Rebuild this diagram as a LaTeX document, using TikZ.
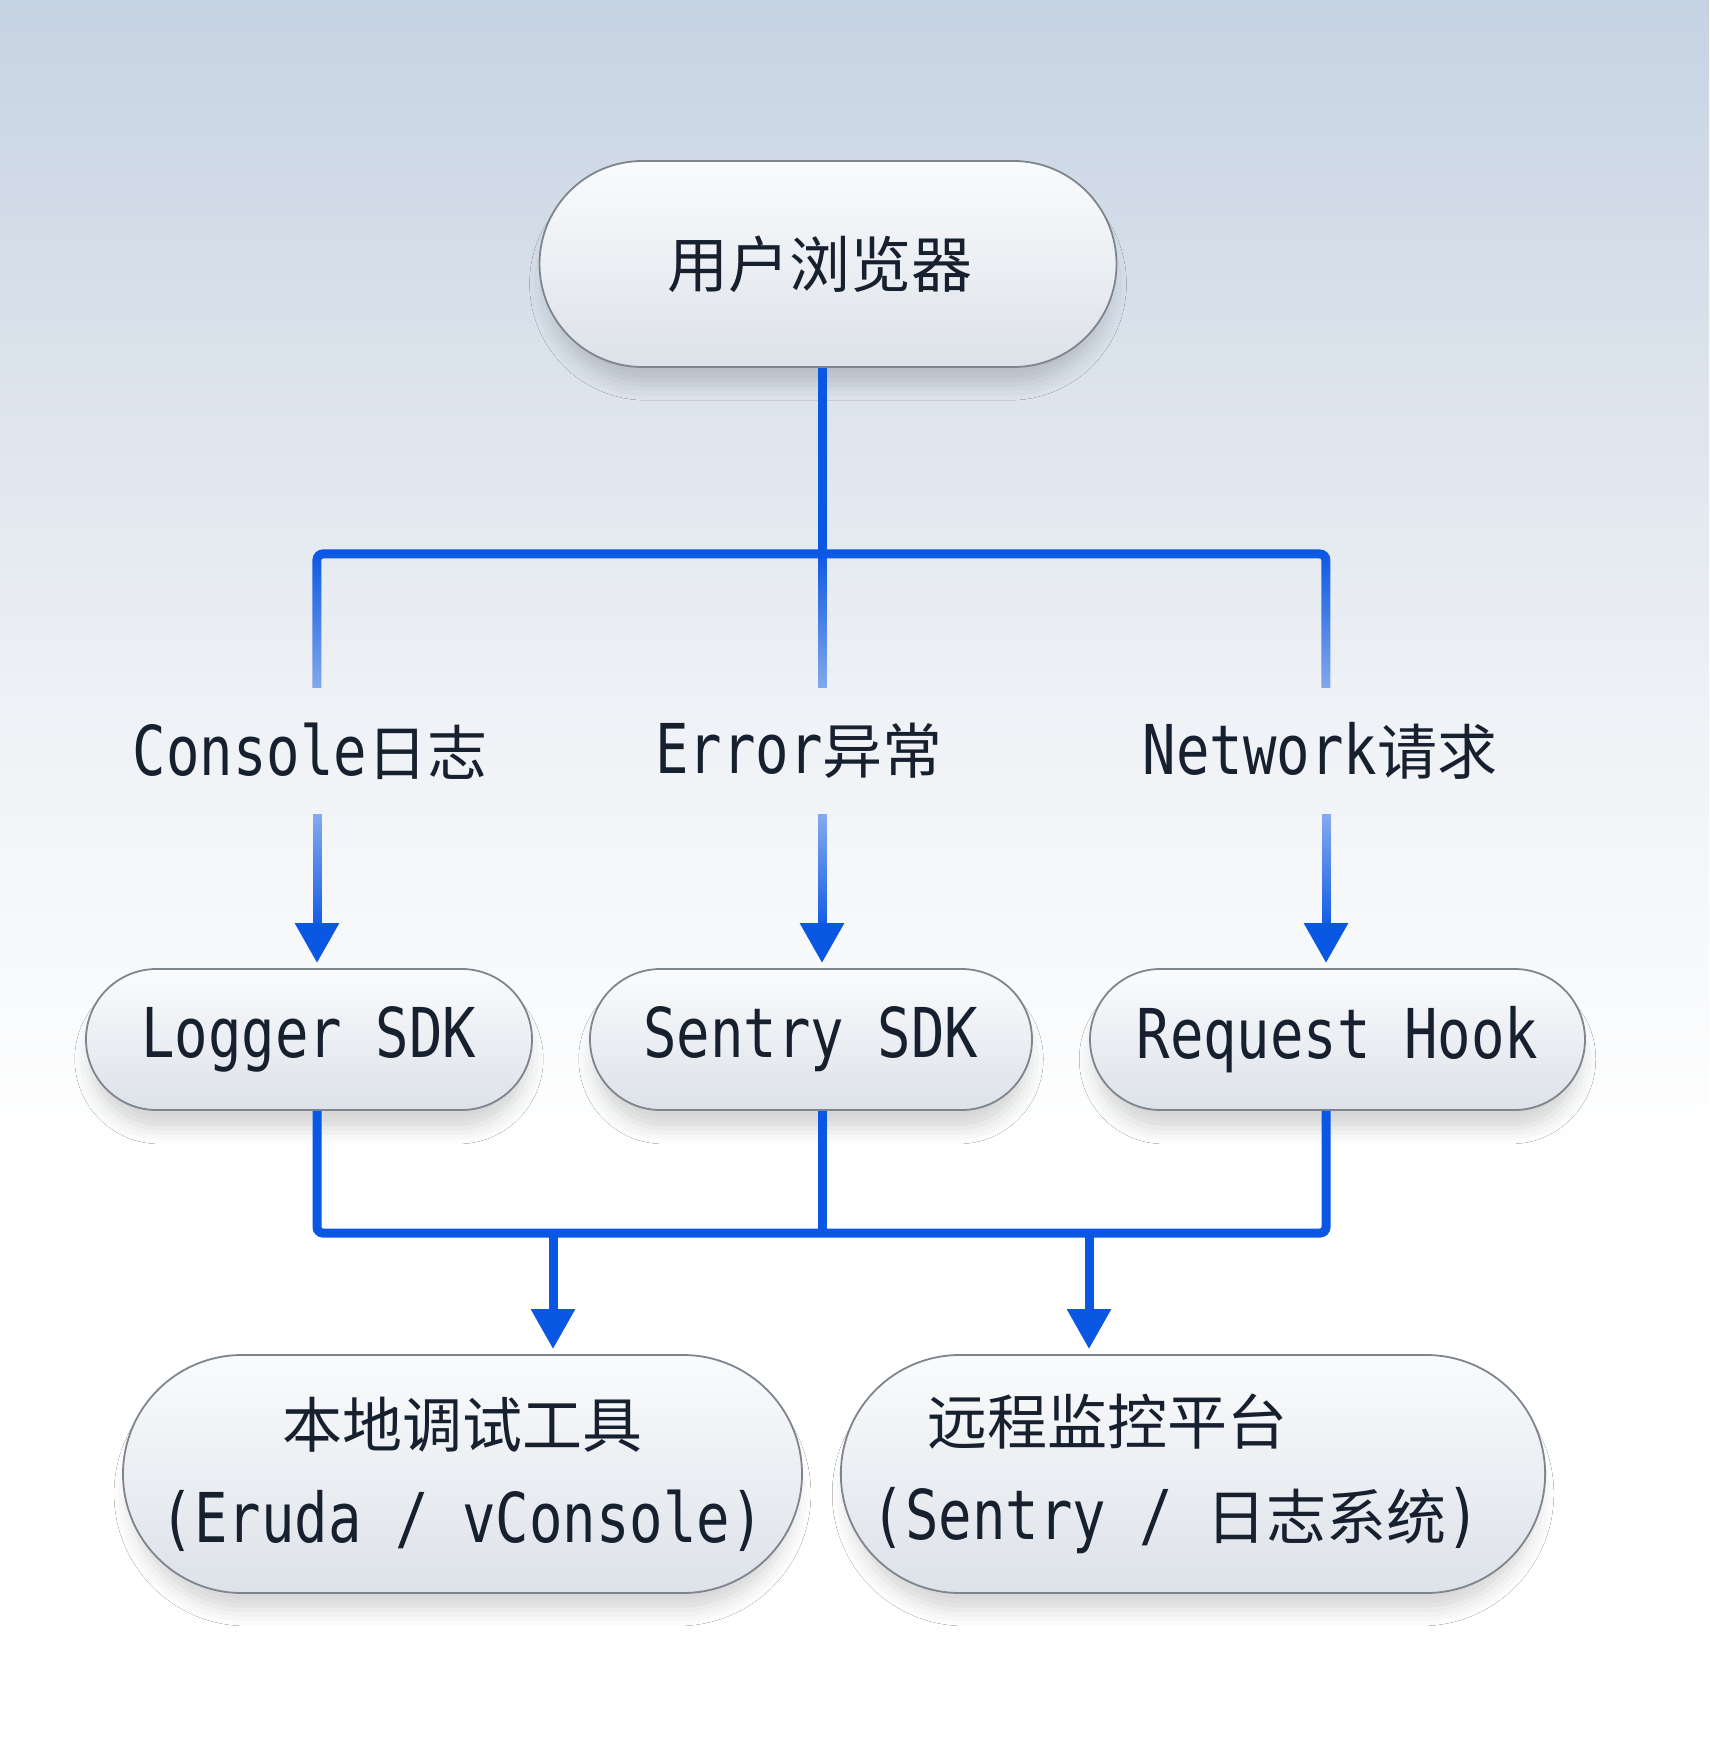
\documentclass[tikz,border=0pt]{standalone}
\usepackage{fontspec}
\usetikzlibrary{shapes.misc,shadows.blur,fadings,arrows.meta,calc}
\newfontfamily\cjkfam{Noto Sans CJK SC}
\newfontfamily\monofam[FakeStretch=0.81]{DejaVu Sans Mono}
\newcommand\zhtxt[1]{{\fontsize{60}{95}\cjkfam #1}}
\newcommand\entxt[1]{{\fontsize{68.7}{95}\monofam #1}}
\definecolor{bgtop}{HTML}{C6D3E2}
\definecolor{bgmid}{HTML}{EEF1F5}
\definecolor{nodetop}{HTML}{FAFBFC}
\definecolor{nodebot}{HTML}{DDE2E9}
\definecolor{nodeborder}{HTML}{7F858E}
\definecolor{ink}{HTML}{16202E}
\definecolor{linkblue}{HTML}{0A57E4}
\tikzfading[name=fadebottom, top color=transparent!0, bottom color=transparent!55]
\tikzfading[name=fadetop, top color=transparent!55, bottom color=transparent!0]
\tikzset{
  pill/.style={rounded rectangle, draw=nodeborder, line width=1.8pt,
    top color=nodetop, bottom color=nodebot, text=ink, inner sep=0pt, align=center,
    font=\fontsize{60}{95}\selectfont,
    blur shadow={shadow xshift=0pt, shadow yshift=-20pt, shadow scale=0.98, shadow blur radius=16pt, shadow opacity=16}},
  lbl/.style={text=ink, inner sep=0pt, minimum height=126pt},
  conn/.style={draw=linkblue, line width=9pt},
  connfade/.style={conn, path fading=fadebottom},
  shaftfade/.style={conn, path fading=fadetop},
  arrowplain/.style={conn, -{Triangle[length=40pt,width=42pt]}},
}
\begin{document}
\begin{tikzpicture}[x=1pt,y=-1pt]
  \useasboundingbox (0,0) rectangle (1709,1753);
  % background
  \shade[top color=bgtop, bottom color=bgmid] (0,0) rectangle (1709,700);
  \shade[top color=bgmid, bottom color=white] (0,700) rectangle (1709,1150);
  \fill[white] (0,1150) rectangle (1709,1753);

  % column coordinates
  \coordinate (mL) at (317,0);
  \coordinate (mM) at (822,0);
  \coordinate (mR) at (1326,0);
  \coordinate (aL) at (553,0);
  \coordinate (aR) at (1089,0);
  \coordinate (busT) at (822,554);
  \coordinate (busB) at (822,1233);

  % nodes
  \node[pill, minimum width=577pt, minimum height=206pt] (browser) at (828,264)
    {\zhtxt{\fontsize{61}{95}\selectfont 用户浏览器}\hspace*{16pt}};

  \node[lbl] (lblC) at (310,751) {\entxt{Console}\zhtxt{日志}};
  \node[lbl] (lblE) at (799,751) {\entxt{Error}\zhtxt{异常}};
  \node[lbl] (lblN) at (1320,751) {\entxt{Network}\zhtxt{请求}};

  \node[pill, minimum width=446pt, minimum height=141pt] (logger) at (309,1039.5) {\entxt{Logger SDK}};
  \node[pill, minimum width=442pt, minimum height=141pt] (sentry) at (811,1039.5) {\entxt{Sentry SDK}};
  \node[pill, minimum width=495pt, minimum height=141pt] (hook) at (1337.5,1039.5) {\entxt{Request Hook}};

  \node[pill, minimum width=679pt, minimum height=238pt] (local) at (462.5,1474)
    {\zhtxt{本地调试工具}\\\entxt{(Eruda / vConsole)}};
  \node[pill, minimum width=702pt, minimum height=238pt] (remote) at (1193,1474)
    {\zhtxt{远程监控平台}\hspace*{172pt}\\\entxt{(Sentry / }\zhtxt{日志系统}\entxt{)}\hspace*{34pt}};

  % top connectors
  \draw[conn] (browser.south -| mM) -- (busT);
  \draw[connfade, rounded corners=6pt] (lblC.north -| mL) |- (busT) -| (lblN.north -| mR);
  \draw[connfade] (busT) -- (lblE.north -| mM);

  % arrows to SDKs: faded shaft, then solid head
  \draw[shaftfade] (lblC.south -| mL) -- ([yshift=40pt]logger.north -| mL);
  \draw[shaftfade] (lblE.south -| mM) -- ([yshift=40pt]sentry.north -| mM);
  \draw[shaftfade] (lblN.south -| mR) -- ([yshift=40pt]hook.north -| mR);
  \draw[arrowplain] ([yshift=44pt]logger.north -| mL) -- ([yshift=5pt]logger.north -| mL);
  \draw[arrowplain] ([yshift=44pt]sentry.north -| mM) -- ([yshift=5pt]sentry.north -| mM);
  \draw[arrowplain] ([yshift=44pt]hook.north -| mR) -- ([yshift=5pt]hook.north -| mR);

  % bottom bus
  \draw[conn, rounded corners=6pt] (logger.south -| mL) |- (busB) -| (hook.south -| mR);
  \draw[conn] (sentry.south -| mM) -- (busB);
  \draw[arrowplain] (busB -| aL) -- ([yshift=5pt]local.north -| aL);
  \draw[arrowplain] (busB -| aR) -- ([yshift=5pt]remote.north -| aR);
\end{tikzpicture}
\end{document}
